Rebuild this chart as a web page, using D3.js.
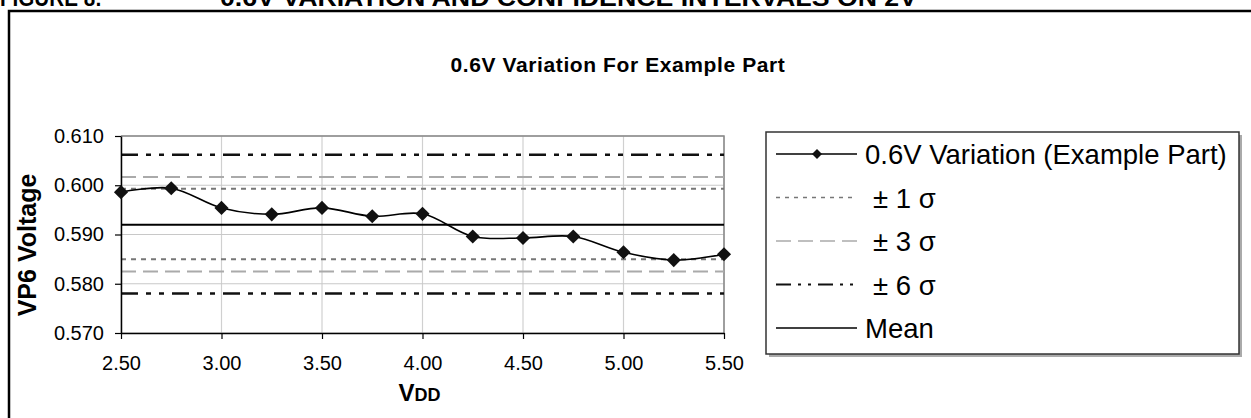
<!DOCTYPE html>
<html>
<head>
<meta charset="utf-8">
<script src="https://cdn.jsdelivr.net/npm/d3@7"></script>
<style>
  body { margin: 0; background: #fff; }
  text { font-family: "Liberation Sans", Arial, sans-serif; fill: #000; }
</style>
</head>
<body>
<div id="chart"></div>
<script>
// values
const vdd = [2.50, 2.75, 3.00, 3.25, 3.50, 3.75, 4.00, 4.25, 4.50, 4.75, 5.00, 5.25, 5.50];
const vp6 = [0.5986, 0.5994, 0.5954, 0.5941, 0.5954, 0.5937, 0.5942, 0.5896, 0.5893, 0.5896, 0.5864, 0.5848, 0.5860];
const meanValue = 0.5920;
const sigma1 = [0.5850, 0.5993];
const sigma3 = [0.5825, 0.6017];
const sigma6 = [0.5780, 0.6062];
const xTicks = [2.50, 3.00, 3.50, 4.00, 4.50, 5.00, 5.50];
const yTicks = [0.570, 0.580, 0.590, 0.600, 0.610];
const legendLabels = ["0.6V Variation (Example Part)", "\u00b1 1 \u03c3", "\u00b1 3 \u03c3", "\u00b1 6 \u03c3", "Mean"];

const margin = {top: 136, right: 527, bottom: 85, left: 121};
const width = 1251 - margin.left - margin.right;
const height = 418 - margin.top - margin.bottom;

const root = d3.select("#chart")
    .append("svg")
    .attr("width", 1251)
    .attr("height", 418);

// page header, cut off at the top edge as in the source
root.append("text")
    .attr("x", 0)
    .attr("y", 6)
    .attr("font-size", 24)
    .attr("font-weight", "bold")
    .attr("textLength", 102)
    .attr("lengthAdjust", "spacingAndGlyphs")
    .text("FIGURE 8:");

root.append("text")
    .attr("x", 220)
    .attr("y", 6)
    .attr("font-size", 24)
    .attr("font-weight", "bold")
    .attr("textLength", 697)
    .attr("lengthAdjust", "spacingAndGlyphs")
    .text("0.6V VARIATION AND CONFIDENCE INTERVALS ON 2V");

// outer frame, runs off the right and bottom
root.append("rect")
    .attr("x", 9)
    .attr("y", 11)
    .attr("width", 1300)
    .attr("height", 500)
    .attr("fill", "none")
    .attr("stroke", "#000")
    .attr("stroke-width", 2.5);

root.append("text")
    .attr("x", 618)
    .attr("y", 72)
    .attr("text-anchor", "middle")
    .attr("font-size", 21)
    .attr("font-weight", "bold")
    .attr("letter-spacing", 0.6)
    .text("0.6V Variation For Example Part");

const svg = root.append("g")
    .attr("transform", `translate(${margin.left},${margin.top})`);

const x = d3.scaleLinear()
    .domain([2.5, 5.5])
    .range([0, width]);

const y = d3.scaleLinear()
    .domain([0.570, 0.610])
    .range([height, 0]);

// gridlines
svg.append("g")
    .selectAll("line")
    .data(xTicks)
    .enter()
    .append("line")
    .attr("x1", d => x(d))
    .attr("x2", d => x(d))
    .attr("y1", 0)
    .attr("y2", height)
    .attr("stroke", "#d0d0d0")
    .attr("stroke-width", 1.2);

svg.append("g")
    .selectAll("line")
    .data(yTicks)
    .enter()
    .append("line")
    .attr("x1", 0)
    .attr("x2", width)
    .attr("y1", d => y(d))
    .attr("y2", d => y(d))
    .attr("stroke", "#c8c8c8")
    .attr("stroke-width", 1.2);

// top and right border of the plot area
svg.append("path")
    .attr("d", `M0,0H${width}V${height}`)
    .attr("fill", "none")
    .attr("stroke", "#888")
    .attr("stroke-width", 1.5);

const refStyles = [
    {values: sigma1, color: "#777", dash: "5,5", w: 2},
    {values: sigma3, color: "#aaa", dash: "15,7", w: 2},
    {values: sigma6, color: "#111", dash: "17,8,5,8,5,8", w: 2.5},
    {values: [meanValue], color: "#000", dash: null, w: 2}
];

refStyles.forEach(s => {
    svg.append("g")
        .selectAll("line")
        .data(s.values)
        .enter()
        .append("line")
        .attr("x1", 0)
        .attr("x2", width)
        .attr("y1", d => y(d))
        .attr("y2", d => y(d))
        .attr("stroke", s.color)
        .attr("stroke-width", s.w)
        .attr("stroke-dasharray", s.dash);
});

// axes
const yAxis = svg.append("g")
    .call(d3.axisLeft(y).tickValues(yTicks).tickFormat(d3.format(".3f")).tickSize(6).tickSizeOuter(0).tickPadding(11));

const xAxis = svg.append("g")
    .attr("transform", `translate(0,${height})`)
    .call(d3.axisBottom(x).tickValues(xTicks).tickFormat(d3.format(".2f")).tickSize(6).tickSizeOuter(0).tickPadding(17));

[yAxis, xAxis].forEach(a => {
    a.selectAll("path").attr("stroke", "#000").attr("stroke-width", 1.5);
    a.selectAll("line").attr("stroke", "#000").attr("stroke-width", 1.2);
    a.selectAll("text")
        .attr("font-size", 20)
        .attr("font-family", "'Liberation Sans', Arial, sans-serif")
        .attr("fill", "#000");
});

// data line
const points = vdd.map((v, i) => ({v: v, val: vp6[i]}));

svg.append("path")
    .datum(points)
    .attr("fill", "none")
    .attr("stroke", "#000")
    .attr("stroke-width", 1.6)
    .attr("d", d3.line()
        .x(d => x(d.v))
        .y(d => y(d.val))
        .curve(d3.curveCatmullRom.alpha(0.5))
    );

const diamond = d3.symbol().type(d3.symbolSquare).size(100);

svg.selectAll(".pt")
    .data(points)
    .enter()
    .append("path")
    .attr("d", diamond)
    .attr("transform", d => `translate(${x(d.v)},${y(d.val)}) rotate(45)`)
    .attr("fill", "#111");

// axis titles
svg.append("text")
    .attr("x", -(245 - margin.top))
    .attr("y", 36 - margin.left)
    .attr("transform", "rotate(-90)")
    .attr("text-anchor", "middle")
    .attr("font-size", 25)
    .attr("font-weight", "bold")
    .text("VP6 Voltage");

const vddLabel = svg.append("text")
    .attr("x", width / 2 - 3)
    .attr("y", 401 - margin.top)
    .attr("text-anchor", "middle")
    .attr("font-weight", "bold")
    .attr("font-size", 24);
vddLabel.append("tspan").text("V");
vddLabel.append("tspan").attr("font-size", 18).text("DD");

// legend
const lg = root.append("g");

lg.append("rect")
    .attr("x", 769)
    .attr("y", 135)
    .attr("width", 473)
    .attr("height", 222)
    .attr("fill", "#aaa");

lg.append("rect")
    .attr("x", 766)
    .attr("y", 132)
    .attr("width", 473)
    .attr("height", 222)
    .attr("fill", "#fff")
    .attr("stroke", "#333")
    .attr("stroke-width", 1.5);

const legendStyles = [
    {color: "#000", dash: null, w: 1.6, marker: true, tx: 865},
    {color: "#777", dash: "4,5", w: 1.5, marker: false, tx: 873},
    {color: "#aaa", dash: "15,7", w: 1.5, marker: false, tx: 873},
    {color: "#111", dash: "15,7,3,7,3,7", w: 2, marker: false, tx: 873},
    {color: "#000", dash: null, w: 1.6, marker: false, tx: 865}
];

const rows = lg.selectAll(".legend")
    .data(legendLabels)
    .enter()
    .append("g")
    .attr("transform", (d, i) => `translate(0,${154 + i * 43.5})`);

rows.append("line")
    .attr("x1", 776)
    .attr("x2", 857)
    .attr("stroke", (d, i) => legendStyles[i].color)
    .attr("stroke-width", (d, i) => legendStyles[i].w)
    .attr("stroke-dasharray", (d, i) => legendStyles[i].dash);

rows.filter((d, i) => legendStyles[i].marker)
    .append("path")
    .attr("d", d3.symbol().type(d3.symbolSquare).size(50))
    .attr("transform", "translate(817,0) rotate(45)")
    .attr("fill", "#111");

rows.append("text")
    .attr("x", (d, i) => legendStyles[i].tx)
    .attr("y", 10)
    .attr("font-size", 27.5)
    .text(d => d);
</script>
</body>
</html>
